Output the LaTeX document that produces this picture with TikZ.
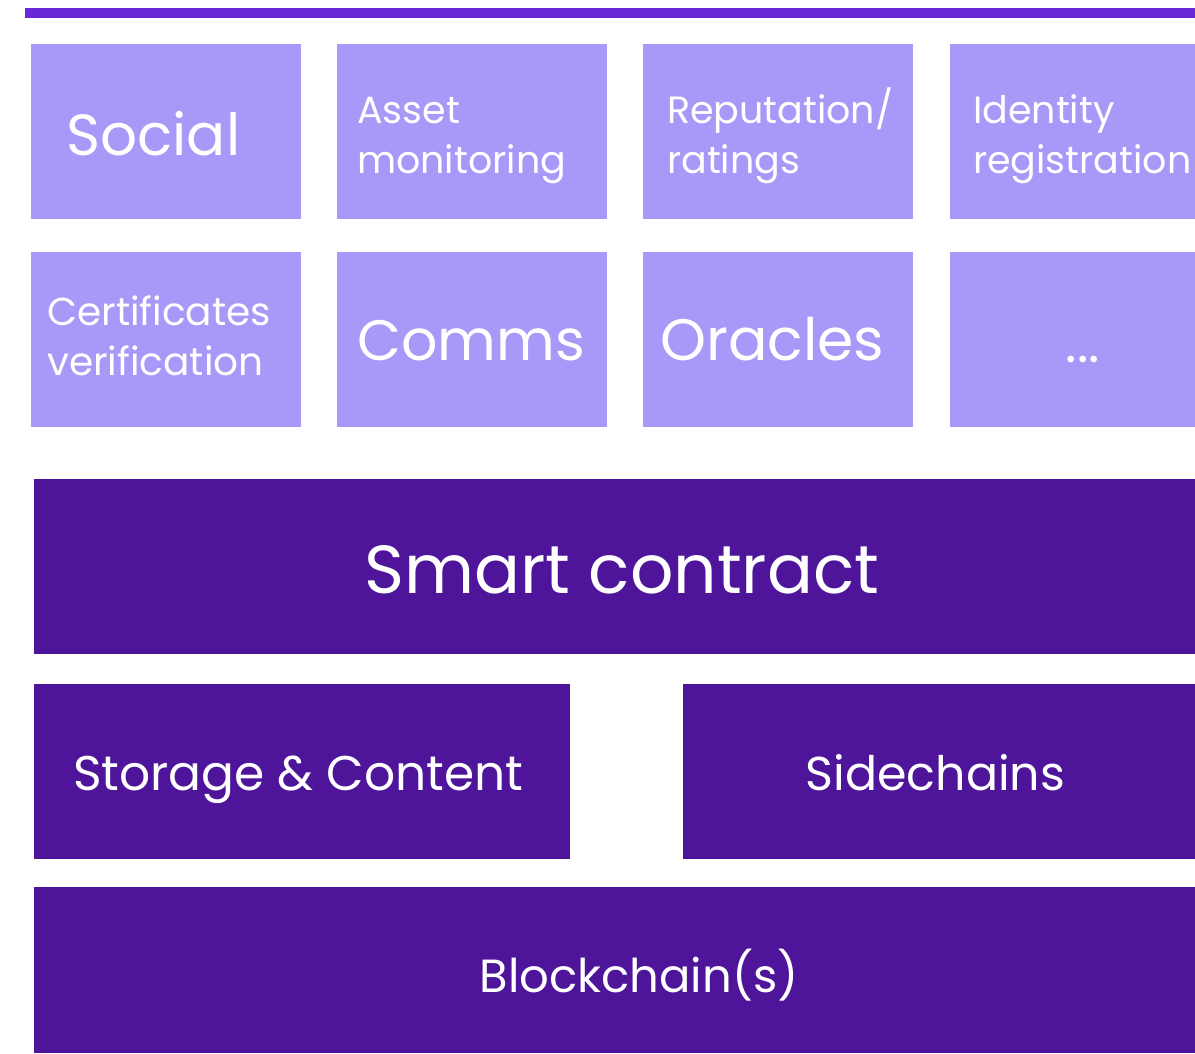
\documentclass[tikz,border=0pt]{standalone}
\usepackage{fontspec}
\setmainfont{Poppins}
\definecolor{barc}{HTML}{6A28D8}
\definecolor{lightc}{HTML}{A898F8}
\definecolor{darkc}{HTML}{4E159A}
\tikzset{
  lbox/.style={fill=lightc, draw=none, rectangle, inner sep=0pt, anchor=north west, minimum height=175pt},
  dbox/.style={fill=darkc, draw=none, rectangle, inner sep=0pt, anchor=north west},
  txt/.style={text=white, inner sep=0pt, anchor=base west},
  ctxt/.style={text=white, inner sep=0pt, anchor=base},
}
\newcommand{\fsz}[1]{\fontsize{#1}{#1}\selectfont}
\newcommand{\twolines}[2]{\vtop{\baselineskip=50pt\hbox{#1}\hbox{#2}}}
\begin{document}
\begin{tikzpicture}[x=1pt,y=-1pt]
\useasboundingbox (0,0) rectangle (1195,1053);
% top bar
\node[fill=barc, rectangle, inner sep=0pt, anchor=north west, minimum width=1170pt, minimum height=10pt] (bar) at (25,8) {};
% row 1
\node[lbox, minimum width=270pt] (b11) at (31,44) {};
\node[lbox, minimum width=270pt] (b12) at (337,44) {};
\node[lbox, minimum width=270pt] (b13) at (643,44) {};
\node[lbox, minimum width=245pt] (b14) at (950,44) {};
% row 2
\node[lbox, minimum width=270pt] (b21) at (31,252) {};
\node[lbox, minimum width=270pt] (b22) at (337,252) {};
\node[lbox, minimum width=270pt] (b23) at (643,252) {};
\node[lbox, minimum width=245pt] (b24) at (950,252) {};
% dark layers
\node[dbox, minimum width=1161pt, minimum height=175pt] (smart) at (34,479) {};
\node[dbox, minimum width=536pt, minimum height=175pt] (storage) at (34,684) {};
\node[dbox, minimum width=512pt, minimum height=175pt] (side) at (683,684) {};
\node[dbox, minimum width=1161pt, minimum height=166pt] (chain) at (34,887) {};
% texts row 1
\node[txt] (t11) at (66,155) {\fsz{58}Social};
\node[txt] (t12) at (357,123) {\fsz{38}\twolines{Asset}{monitoring}};
\node[txt] (t13) at (667,123) {\fsz{38}\twolines{Reputation/}{ratings}};
\node[txt] (t14) at (973,123) {\fsz{38}\twolines{Identity}{registration}};
% texts row 2
\node[txt] (t21) at (47,325) {\fsz{39}\twolines{Certificates}{verification}};
\node[txt] (t22) at (357,360) {\fsz{57}Comms};
\node[txt] (t23) at (660,360) {\fsz{58.5}Oracles};
\node[ctxt] (t24) at (1083,362) {\fsz{54}...};
% dark texts
\node[ctxt] (tsmart) at (622,593) {\fsz{68}Smart contract};
\node[ctxt] (tstorage) at (298.5,790) {\fsz{48.7}Storage \& Content};
\node[ctxt] (tside) at (935.5,790) {\fsz{47.5}Sidechains};
\node[ctxt] (tchain) at (639,992) {\fsz{46.5}Blockchain(s)};
\end{tikzpicture}
\end{document}
